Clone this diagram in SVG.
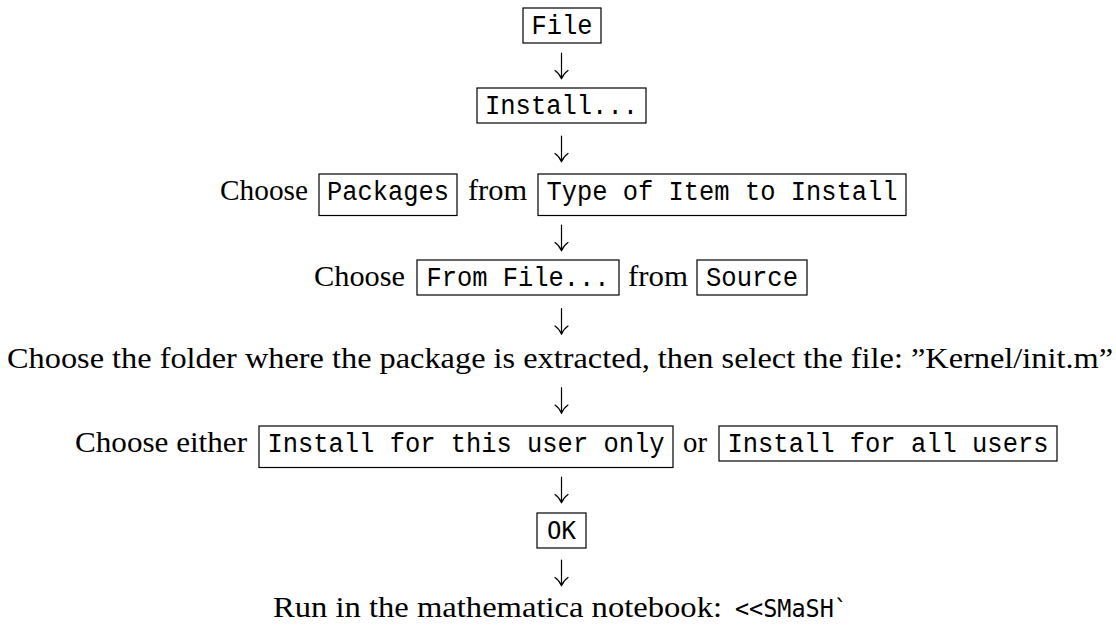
<svg xmlns="http://www.w3.org/2000/svg" xmlns:xlink="http://www.w3.org/1999/xlink" width="1116" height="625" viewBox="0 0 1116 625">
<style>
.s{font-family:"Liberation Serif","Times New Roman",serif;font-size:29px;fill:#000}
.m{font-family:"Liberation Mono","Courier New",monospace;font-size:27px;fill:#000}
.k{font-family:"DejaVu Sans Mono","Liberation Mono",monospace;font-size:25px;fill:#000}
.b{fill:none;stroke:#000;stroke-width:1.2}
.a{fill:none;stroke:#000;stroke-width:1.2;stroke-linecap:round}
</style>
<defs>
<path id="arr" class="a" d="M0,0 V25.8 M-6.5,17.5 Q-2,20.5 0,25.8 M6.5,17.5 Q2,20.5 0,25.8"/>
</defs>
<rect width="1116" height="625" fill="#fff"/>
<g id="connectors">
<use xlink:href="#arr" x="561.5" y="53"/>
<use xlink:href="#arr" x="561.5" y="136"/>
<use xlink:href="#arr" x="561.5" y="225"/>
<use xlink:href="#arr" x="561.5" y="308.5"/>
<use xlink:href="#arr" x="561.5" y="387.6"/>
<use xlink:href="#arr" x="561.5" y="477"/>
<use xlink:href="#arr" x="561.5" y="560"/>
</g>
<g id="n-file">
<rect class="b" x="523" y="8" width="78" height="35"/>
<text class="m" x="562" y="34" text-anchor="middle" textLength="61" lengthAdjust="spacingAndGlyphs">File</text>
</g>
<g id="n-install">
<rect class="b" x="477" y="88" width="169" height="35"/>
<text class="m" x="561.5" y="114" text-anchor="middle" textLength="153" lengthAdjust="spacingAndGlyphs">Install...</text>
</g>
<g id="n-packages">
<text class="s" x="220" y="200" textLength="88" lengthAdjust="spacingAndGlyphs">Choose</text>
<rect class="b" x="319" y="174" width="138" height="41.5"/>
<text class="m" x="388" y="200" text-anchor="middle" textLength="122" lengthAdjust="spacingAndGlyphs">Packages</text>
<text class="s" x="468" y="200" textLength="59" lengthAdjust="spacingAndGlyphs">from</text>
<rect class="b" x="538" y="174" width="368" height="41.5"/>
<text class="m" x="722" y="200" text-anchor="middle" textLength="351" lengthAdjust="spacingAndGlyphs">Type of Item to Install</text>
</g>
<g id="n-fromfile">
<text class="s" x="314" y="286" textLength="91" lengthAdjust="spacingAndGlyphs">Choose</text>
<rect class="b" x="417" y="260" width="202" height="35"/>
<text class="m" x="518" y="286" text-anchor="middle" textLength="183" lengthAdjust="spacingAndGlyphs">From File...</text>
<text class="s" x="628" y="286" textLength="60" lengthAdjust="spacingAndGlyphs">from</text>
<rect class="b" x="697" y="260" width="110" height="35"/>
<text class="m" x="752" y="286" text-anchor="middle" textLength="92" lengthAdjust="spacingAndGlyphs">Source</text>
</g>
<g id="n-folder">
<text class="s" x="560" y="368" text-anchor="middle" textLength="1106" lengthAdjust="spacingAndGlyphs">Choose the folder where the package is extracted, then select the file: ”Kernel/init.m”</text>
</g>
<g id="n-either">
<text class="s" x="75" y="452" textLength="172" lengthAdjust="spacingAndGlyphs">Choose either</text>
<rect class="b" x="259" y="426" width="414" height="41.5"/>
<text class="m" x="466" y="452" text-anchor="middle" textLength="397" lengthAdjust="spacingAndGlyphs">Install for this user only</text>
<text class="s" x="683" y="452" textLength="24" lengthAdjust="spacingAndGlyphs">or</text>
<rect class="b" x="719" y="426" width="338" height="35"/>
<text class="m" x="888" y="452" text-anchor="middle" textLength="321" lengthAdjust="spacingAndGlyphs">Install for all users</text>
</g>
<g id="n-ok">
<rect class="b" x="537" y="513" width="49" height="35"/>
<text class="k" x="561.5" y="539" text-anchor="middle" textLength="29" lengthAdjust="spacingAndGlyphs">OK</text>
</g>
<g id="n-run">
<text class="s" x="273" y="617" textLength="449" lengthAdjust="spacingAndGlyphs">Run in the mathematica notebook:</text>
<text class="k" x="735" y="617" textLength="113" lengthAdjust="spacingAndGlyphs">&lt;&lt;SMaSH`</text>
</g>
</svg>
